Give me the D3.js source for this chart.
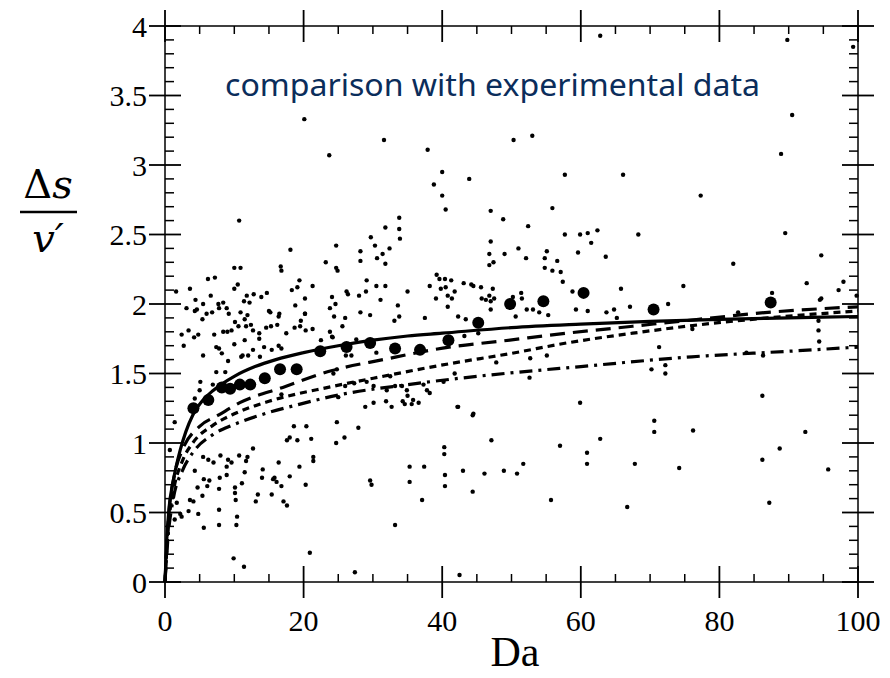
<!DOCTYPE html>
<html>
<head>
<meta charset="utf-8">
<script src="https://cdn.jsdelivr.net/npm/d3@7"></script>
<style>
  body { margin: 0; background: #fff; }
  svg { display: block; }
</style>
</head>
<body>
<svg width="890" height="678"></svg>
<script>
const width = 890, height = 678;
const svg = d3.select("svg");

// Axis ticks
const daMajor = [0, 20, 40, 60, 80, 100];
const daMinor = [5, 10, 15, 25, 30, 35, 45, 50, 55, 65, 70, 75, 85, 90, 95];
const vMajor = [0, 0.5, 1, 1.5, 2, 2.5, 3, 3.5, 4];
const vMinor = [0.1, 0.2, 0.3, 0.4, 0.6, 0.7, 0.8, 0.9, 1.1, 1.2, 1.3, 1.4, 1.6, 1.7, 1.8, 1.9,
                2.1, 2.2, 2.3, 2.4, 2.6, 2.7, 2.8, 2.9, 3.1, 3.2, 3.3, 3.4, 3.6, 3.7, 3.8, 3.9];

// Model curves [Da, ds/v']
const curveSolid = [[0,0],[0.25,0.3],[0.6,0.54],[1.2,0.73],[2.2,0.95],[3,1.08],[4,1.2],[5.5,1.31],[7,1.38],
  [10,1.48],[13,1.55],[16,1.6],[20,1.65],[25,1.7],[30,1.74],[35,1.77],[40,1.79],[50,1.83],[60,1.855],
  [70,1.875],[80,1.89],[90,1.9],[100,1.91]];
const curveLongDash = [[0,0],[0.5,0.45],[1.5,0.8],[2.5,0.95],[5,1.12],[7.7,1.2],[10.8,1.29],[17,1.4],
  [24,1.52],[31.5,1.6],[41,1.69],[48,1.73],[58,1.79],[67.5,1.84],[77,1.89],[87,1.94],[100,1.98]];
const curveShortDash = [[0,0],[0.4,0.35],[1.2,0.65],[2.5,0.87],[4,1.0],[7,1.13],[10,1.21],[15,1.3],
  [24,1.405],[31.5,1.48],[41,1.57],[50,1.645],[58,1.72],[67.5,1.79],[77,1.85],[87,1.9],[100,1.95]];
const curveDashDot = [[0,0],[0.4,0.3],[1.2,0.6],[2.5,0.8],[4,0.93],[6.9,1.06],[9.8,1.13],[13.7,1.2],
  [19.5,1.28],[25,1.345],[35,1.42],[49,1.5],[60,1.55],[76,1.62],[90,1.66],[100,1.69]];

// Experimental data (large dots)
const expData = [[4.1,1.25],[6.25,1.31],[8.2,1.4],[9.4,1.39],[10.8,1.42],[12.3,1.42],[14.4,1.465],
  [16.6,1.53],[19,1.53],[22.4,1.66],[26.2,1.69],[29.6,1.72],[33.2,1.68],[36.8,1.67],[40.9,1.74],
  [45.2,1.865],[49.8,2.0],[54.6,2.02],[60.4,2.08],[70.5,1.96],[87.4,2.01]];

// Simulation scatter (small dots)
const scatter = [
  [20.1,3.33],[23.7,3.07],[31.6,3.18],[37.9,3.11],[40,2.95],[38.8,2.86],[40,2.78],[40.5,2.68],[43.9,2.9],
  [47,2.67],[48.8,2.61],[10.7,2.6],[33.8,2.62],[31.8,2.55],[33.8,2.54],[33.9,2.47],[29.7,2.48],[30.3,2.42],
  [32.4,2.4],[24.7,2.42],[28.2,2.38],[28.2,2.31],[30.6,2.33],[31.4,2.36],[31.8,2.29],[18.1,2.39],[23.2,2.3],
  [24.7,2.26],[24.9,2.24],[16.7,2.27],[16.8,2.24],[10,2.26],[10.9,2.26],[10.5,2.14],[10,2.11],[6.2,2.18],
  [7.2,2.19],[3.6,2.11],[1.6,2.09],[6.6,2.06],[3.1,1.97],[4.4,2.03],[5.5,2],[7.7,2],[8.4,2.01],[4.6,1.96],
  [6.8,1.94],[7.8,1.97],[11.4,2.02],[11.8,2.06],[12.2,2.01],[12.8,2.07],[13.9,2.05],[14.7,2.08],[11.9,1.92],
  [10.9,1.94],[15,1.95],[16.5,1.93],[18.8,1.99],[18.3,2.1],[19.1,2.12],[19.4,2.17],[21.3,2.13],[20.2,2.04],
  [24.1,2.05],[24.6,2],[23.8,1.97],[20.2,1.93],[26.2,2.09],[26.4,2.07],[28,2.06],[29.1,2.17],[29,2.09],
  [30.5,2.13],[31.8,2.13],[31.1,2.03],[33.6,1.99],[35,2.09],[28.2,1.94],[29.6,1.92],[38.2,2.13],[39.2,2.21],
  [39.6,2.18],[40.4,2.18],[41.3,2.17],[39.8,2.11],[40.5,2.12],[40.8,2.06],[41.8,2.09],[39.1,2.04],[41.4,2.04],
  [40.8,1.98],[43.1,2.15],[44.2,2.14],[44.5,2.13],[45.6,2.12],[47.3,2.11],[46.8,2.06],[45.7,2.04],[46.3,2.03],
  [47,2.02],[47.5,2.04],[47,1.96],[46.8,2.28],[47.4,2.3],[46.8,2.36],[47,2.45],[49,2.36],
  [62.8,3.93],[89.8,3.9],[99.3,3.85],[90.5,3.36],[50.3,3.18],[53,3.21],[88.9,3.08],[57.7,2.93],[66.1,2.93],
  [77.3,2.78],[55.9,2.69],[52.4,2.56],[89.5,2.51],[57.7,2.5],[59.9,2.5],[61,2.51],[62.4,2.53],[61.5,2.44],
  [68.3,2.5],[51,2.4],[52.1,2.33],[54.8,2.33],[55.1,2.38],[56.6,2.31],[59.6,2.37],[63.6,2.34],[82,2.29],
  [94.7,2.35],[54.8,2.26],[55.9,2.24],[57.1,2.23],[57.4,2.16],[58.8,2.09],[51.4,2.08],[50.2,2.05],[51.5,2.04],
  [65.8,2.11],[74.8,2.13],[92.6,2.15],[97.9,2.16],[97.2,2.1],[99.8,2.06],[87.6,2.08],[94.7,2.04],[72.6,2],
  [59.3,1.96],[61,1.95],[63.7,1.94],[64.8,1.96],[67.1,1.98],[50.6,1.91],[52.2,1.96],[53.1,1.96],[54,1.94],
  [55.3,1.92],
  [59.9,1.29],[70.6,1.16],[70.6,1.08],[76.2,1.09],[86.2,1.34],[92.4,1.08],[88.7,0.96],[62.8,1.03],[57,0.98],
  [60.9,0.93],[60.9,0.85],[51.7,0.85],[48.9,0.8],[50.8,0.78],[67.8,0.85],[74.2,0.82],[86.2,0.88],[95.7,0.81],
  [55.7,0.59],[66.7,0.54],[87.2,0.57],[52.6,1.47],[55.1,1.63],[52.7,1.61],[71.3,1.69],[70.2,1.53],[72.2,1.56],
  [72.2,1.5],[94.3,1.81],[94.4,1.73],[94.3,1.88],[83.9,1.65],[86.3,1.63],[65.2,1.9],[82.7,1.94],[94.5,2.03],
  [76.1,1.82],
  [20.9,0.21],[27.4,0.07],[42.5,0.05],[9.9,0.17],[11.4,0.11],[33.2,0.41],[37.1,0.59],[29.6,0.73],[29.8,0.7],
  [35.3,0.83],[35.3,0.72],[37.4,0.83],[40.4,0.77],[40.4,0.69],[43,0.8],[44.4,0.65],[46.1,0.78],[47.1,1.02],
  [40.3,0.97],[40.3,0.92],[44.4,1.2],[42.2,1.26],[27.9,1.11],[24.8,1.15],[25.9,1.04],[24.7,1],[20.3,0.7],
  [21.4,0.9],[21.4,0.87],[19.4,0.83],[18,0.76],[16.4,0.86],[17.6,1.02],[18.6,1.12],[20.4,1.12],[21.1,1.03],
  [19.1,1.02],[14.1,0.81],[15.6,0.74],[16.1,0.72],[15.4,0.63],[13.4,0.63],[13.1,0.58],[17.1,0.58],[17.6,0.55],
  [1.4,1.15],[0.7,0.95],[18,1.04],[5.5,0.9],[6.25,0.88],[7,0.86],[8,0.91],[9.1,0.88],[9.6,0.86],[8.9,0.83],
  [10.7,0.91],[11.9,0.9],[11.7,0.87],[12.7,0.96],[4.3,0.8],[5.6,0.74],[6.4,0.73],[7.9,0.75],[8.9,0.77],
  [11.5,0.79],[11.1,0.71],[14,0.75],[15.8,0.75],[16.8,0.69],[4.7,0.68],[6.1,0.69],[7.8,0.67],[10.1,0.68],
  [10.1,0.64],[10.2,0.59],[5.4,0.62],[1.7,0.57],[3.6,0.59],[4.1,0.58],[3.4,0.51],[2.2,0.49],[2.4,0.47],
  [1.4,0.45],[4.8,0.49],[7.8,0.52],[7.8,0.41],[10.4,0.47],[10.3,0.41],[5.6,0.39],
  [4.3,1.95],[5.4,1.89],[6,1.93],[8.9,1.97],[9.2,1.93],[10.1,1.87],[11.5,1.89],[2.4,1.78],[3.4,1.81],
  [4.2,1.76],[4.8,1.78],[2.7,1.7],[5.5,1.63],[7.1,1.78],[8.4,1.8],[9,1.8],[9.6,1.81],[10.6,1.84],[11.7,1.84],
  [12.4,1.85],[12.7,1.81],[13.6,1.79],[14.6,1.83],[15.3,1.84],[16.2,1.85],[17.5,1.79],[18.7,1.83],[19.5,1.84],
  [20.3,1.81],[21.3,1.82],[15.2,1.94],[16.4,1.91],[19.6,1.88],[20.2,1.93],[13.6,1.75],[11.5,1.74],[10,1.71],
  [7.4,1.69],[7.8,1.68],[8.2,1.645],[11.2,1.63],[12,1.63],[12.7,1.67],[14.3,1.69],[15.4,1.67],[16.4,1.7],
  [16.8,1.68],[13.7,1.62],[11,1.62],[9.1,1.59],[7.4,1.51],[8.7,1.51],[5.1,1.44],[5,1.38],[4.3,1.32],[6.9,1.42],
  [24.4,1.91],[22.5,1.74],[24.1,1.765],[16.8,1.35],[25,1.33],
  [26,1.9],[25.6,1.84],[33.8,1.91],[33.1,1.88],[37.5,1.9],[42.3,1.91],[43.4,1.89],[23.8,1.8],[24.2,1.76],
  [27.6,1.745],[43.2,1.77],[45.2,1.79],[26.1,1.63],[26.9,1.63],[30.5,1.65],[24.8,1.53],[24.3,1.5],[32.5,1.48],
  [41.8,1.5],[47.8,1.58],[26,1.41],[27.3,1.43],[29.1,1.44],[30.1,1.41],[32,1.38],[33.2,1.41],[34.2,1.41],
  [34.9,1.38],[35,1.34],[35.8,1.31],[36.6,1.29],[35.6,1.28],[34.6,1.28],[34.3,1.3],[32.7,1.26],[31.9,1.3],
  [28.9,1.26],[30.1,1.29],[37.3,1.42],[37.8,1.38],[38.2,1.36],[40.2,1.44],[42.3,1.26],[44.5,1.21]
];

const x = d3.scaleLinear().domain([0, 100]).range([165, 858]);
const y = d3.scaleLinear().domain([0, 4]).range([582, 26]);
const frameTop = y(4), frameBottom = y(0), frameLeft = x(0), frameRight = x(100);
const serif = "'Liberation Serif', 'DejaVu Serif', serif";
const mathFont = "'DejaVu Serif', serif";

// Scatter points
svg.append("g").selectAll("circle")
  .data(scatter).enter().append("circle")
  .attr("cx", d => x(d[0])).attr("cy", d => y(d[1]))
  .attr("r", 2.2).attr("fill", "#000");

// Model curves
const line = d3.line().x(d => x(d[0])).y(d => y(d[1])).curve(d3.curveMonotoneX);
const curves = [
  { data: curveDashDot, dash: "13,6,3,6" },
  { data: curveShortDash, dash: "7,5" },
  { data: curveLongDash, dash: "15,8" },
  { data: curveSolid, dash: null }
];
curves.forEach(c => {
  svg.append("path").datum(c.data)
    .attr("fill", "none").attr("stroke", "#000").attr("stroke-width", 3.2)
    .attr("stroke-dasharray", c.dash)
    .attr("d", line);
});

// Experimental data
svg.append("g").selectAll("circle")
  .data(expData).enter().append("circle")
  .attr("cx", d => x(d[0])).attr("cy", d => y(d[1]))
  .attr("r", 6).attr("fill", "#000");

// Frame
svg.append("rect").attr("x", frameLeft).attr("y", frameTop)
  .attr("width", frameRight - frameLeft).attr("height", frameBottom - frameTop)
  .attr("fill", "none").attr("stroke", "#000").attr("stroke-width", 1.5);

// Major ticks cross the frame, minor ticks point inward
const tickG = svg.append("g").attr("stroke", "#000");
daMajor.forEach(d => {
  tickG.append("line").attr("x1", x(d)).attr("x2", x(d)).attr("y1", frameBottom - 16).attr("y2", frameBottom + 16).attr("stroke-width", 1.8);
  tickG.append("line").attr("x1", x(d)).attr("x2", x(d)).attr("y1", frameTop - 16).attr("y2", frameTop + 16).attr("stroke-width", 1.8);
});
daMinor.forEach(d => {
  tickG.append("line").attr("x1", x(d)).attr("x2", x(d)).attr("y1", frameBottom).attr("y2", frameBottom - 8).attr("stroke-width", 1.5);
  tickG.append("line").attr("x1", x(d)).attr("x2", x(d)).attr("y1", frameTop).attr("y2", frameTop + 8).attr("stroke-width", 1.5);
});
vMajor.forEach(v => {
  tickG.append("line").attr("y1", y(v)).attr("y2", y(v)).attr("x1", frameLeft - 16).attr("x2", frameLeft + 16).attr("stroke-width", 1.8);
  tickG.append("line").attr("y1", y(v)).attr("y2", y(v)).attr("x1", frameRight - 16).attr("x2", frameRight + 16).attr("stroke-width", 1.8);
});
vMinor.forEach(v => {
  tickG.append("line").attr("y1", y(v)).attr("y2", y(v)).attr("x1", frameLeft).attr("x2", frameLeft + 9).attr("stroke-width", 1.5);
  tickG.append("line").attr("y1", y(v)).attr("y2", y(v)).attr("x1", frameRight - 9).attr("x2", frameRight).attr("stroke-width", 1.5);
});

// Tick labels
svg.append("g").selectAll("text")
  .data(daMajor).enter().append("text")
  .attr("x", d => x(d)).attr("y", 631)
  .attr("text-anchor", "middle")
  .style("font-family", serif).style("font-size", "30px")
  .text(d => d);

svg.append("g").selectAll("text")
  .data(vMajor).enter().append("text")
  .attr("x", 147).attr("y", d => y(d)).attr("dy", "0.35em")
  .attr("text-anchor", "end")
  .style("font-family", serif).style("font-size", "30px")
  .text(d => d);

// Axis titles
svg.append("text")
  .attr("x", 515).attr("y", 666)
  .attr("text-anchor", "middle")
  .style("font-family", serif).style("font-size", "42px")
  .text("Da");

// Fraction label: Δs over v′
svg.append("text").attr("x", 48).attr("y", 198).attr("text-anchor", "middle")
  .style("font-family", mathFont).style("font-size", "40px")
  .text("Δ")
  .append("tspan").style("font-style", "italic").text("s");
svg.append("line").attr("x1", 20).attr("x2", 77).attr("y1", 212).attr("y2", 212)
  .attr("stroke", "#000").attr("stroke-width", 2.5);
svg.append("text").attr("x", 48).attr("y", 252).attr("text-anchor", "middle")
  .style("font-family", mathFont).style("font-size", "40px").style("font-style", "italic")
  .text("v′");

// Title
svg.append("text")
  .attr("x", 225).attr("y", 96)
  .attr("textLength", 535).attr("lengthAdjust", "spacingAndGlyphs")
  .style("font-family", "'Noto Sans', 'Open Sans', sans-serif").style("font-size", "31px")
  .style("fill", "#0b2d5b")
  .text("comparison with experimental data");
</script>
</body>
</html>
